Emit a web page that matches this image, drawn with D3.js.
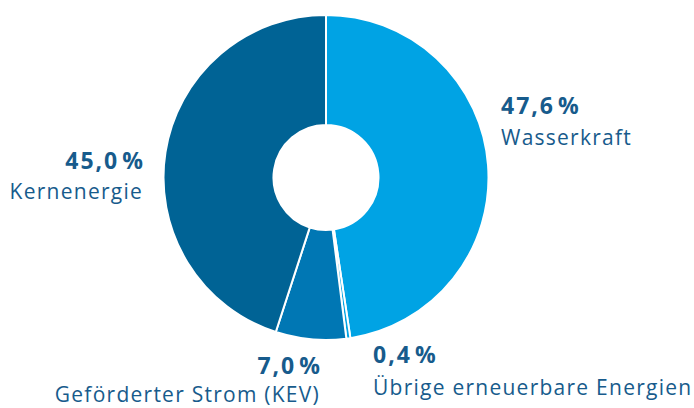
<!DOCTYPE html>
<html>
<head>
<meta charset="utf-8">
<script src="https://cdn.jsdelivr.net/npm/d3@7"></script>
<style>
  body { margin: 0; background: #fff; }
  svg text { font-family: "Open Sans", sans-serif; fill: #175b8c; }
</style>
</head>
<body>
<div id="chart"></div>
<script>
// shares of electricity mix, clockwise from 12 o'clock
const categories = ["Wasserkraft", "Übrige erneuerbare Energien", "Geförderter Strom (KEV)", "Kernenergie"];
const shares = [47.6, 0.4, 7.0, 45.0];
const shareLabels = ["47,6", "0,4", "7,0", "45,0"];
const colors = ["#00a3e4", "#00a3e4", "#0077b4", "#006395"];

const width = 694;
const height = 408;
const cx = 326, cy = 177.5;
const outerR = 162.5, innerR = 52.5;

const svg = d3.select("#chart")
    .append("svg")
        .attr("width", width)
        .attr("height", height);

const g = svg.append("g")
    .attr("transform", `translate(${cx}, ${cy})`);

const pieData = categories.map((c, i) => ({ name: c, value: shares[i], label: shareLabels[i], color: colors[i] }));

const pie = d3.pie()
    .sort(null)
    .value(d => d.value);

const arc = d3.arc()
    .innerRadius(innerR)
    .outerRadius(outerR);

g.selectAll("path")
    .data(pie(pieData))
    .enter()
    .append("path")
        .attr("d", arc)
        .attr("fill", d => d.data.color)
        .attr("stroke", "#fff")
        .style("stroke-width", "2px");

// label placement (anchor, x, baseline of percentage, baseline of name)
const labelPos = [
    { anchor: "start", x: 501, y1: 114, y2: 145 },
    { anchor: "start", x: 373, y1: 363, y2: 395 },
    { anchor: "end", x: 320, y1: 374, y2: 402 },
    { anchor: "end", x: 143, y1: 169, y2: 199 }
];

const labels = svg.selectAll("g.lbl")
    .data(pieData)
    .enter()
    .append("g")
        .attr("class", "lbl")
        .attr("transform", (d, i) => `translate(${labelPos[i].x}, 0)`);

const pct = labels.append("text")
    .attr("text-anchor", (d, i) => labelPos[i].anchor)
    .attr("y", (d, i) => labelPos[i].y1)
    .style("font-size", "23px")
    .style("font-weight", "bold")
    .style("letter-spacing", "2px");
pct.append("tspan").text(d => d.label);
pct.append("tspan").attr("dx", 3).style("letter-spacing", "0px").text("%");

labels.append("text")
    .attr("text-anchor", (d, i) => labelPos[i].anchor)
    .attr("y", (d, i) => labelPos[i].y2)
    .style("font-size", "21px")
    .style("letter-spacing", "1.25px")
    .text(d => d.name);
</script>
</body>
</html>
